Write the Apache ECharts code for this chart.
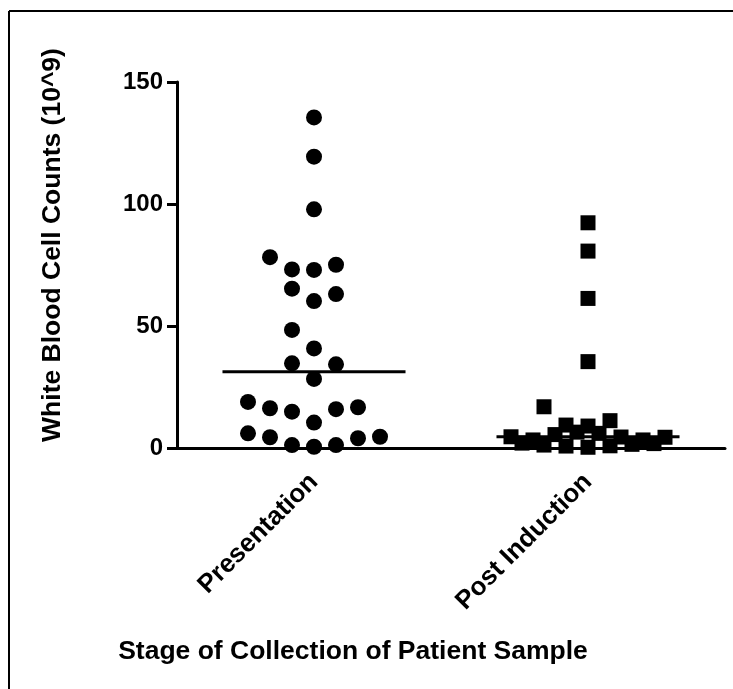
<!DOCTYPE html>
<html>
<head>
<meta charset="utf-8">
<script src="https://cdn.jsdelivr.net/npm/echarts@6/dist/echarts.min.js"></script>
<style>
html,body{margin:0;padding:0;background:#fff;}
#chart{width:733px;height:689px;}
</style>
</head>
<body>
<div id="chart"></div>
<script>
// ---- data ----
var categories = ['Presentation', 'Post Induction'];
var yTicks = [0, 50, 100, 150];

// Presentation (circles): values and beeswarm column index
var presValues  = [135.5, 119.4, 97.8, 78.2, 73.2, 73.0, 75.1, 65.3, 60.2, 63.1, 48.4, 40.8, 34.7, 34.3, 28.3,
                   18.9, 16.3, 14.9, 15.9, 16.7, 10.4, 6.0, 4.4, 1.2, 0.5, 1.2, 4.0, 4.6];
var presColumns = [0, 0, 0, -2, -1, 0, 1, -1, 0, 1, -1, 0, -1, 1, 0,
                   -3, -2, -1, 1, 2, 0, -3, -2, -1, 0, 1, 2, 3];

// Post Induction (squares)
var postValues  = [92.3, 80.7, 61.3, 35.4, 16.9, 9.4, 9.0, 11.2,
                   4.6, 3.3, 5.5, 6.5, 6.0, 4.5, 3.3, 4.4,
                   1.2, 0.8, 0.3, 0.9, 1.5, 1.8, 2.0];
var postColumns = [0, 0, 0, 0, -2, -1, 0, 1,
                   -3.5, -2.5, -1.5, -0.5, 0.5, 1.5, 2.5, 3.5,
                   -2, -1, 0, 1, 2, 3, -3];

// ---- layout constants ----
var COLUMN_STEP = 22 / 274;      // horizontal spacing of swarm columns, in category units
var MEDIAN_HALF = 0.334;         // half width of median bar, in category units
var FONT = 'Liberation Sans, Arial, Helvetica, sans-serif';

function median(arr) {
  var s = arr.slice().sort(function(a, b) { return a - b; });
  var n = s.length;
  return n % 2 ? s[(n - 1) / 2] : (s[n / 2 - 1] + s[n / 2]) / 2;
}
function swarm(catIndex, values, cols) {
  return values.map(function(v, i) { return [catIndex + 1 + cols[i] * COLUMN_STEP, v]; });
}
function medianLine(catIndex, values) {
  var m = median(values);
  return [[catIndex + 1 - MEDIAN_HALF, m], [catIndex + 1 + MEDIAN_HALF, m]];
}

var chart = echarts.init(document.getElementById('chart'), null, {renderer: 'canvas'});
var option = {
  backgroundColor: '#fff',
  animation: false,
  grid: {left: 177, right: 8, top: 82, bottom: 241, containLabel: false},
  xAxis: [{
    type: 'category',
    data: categories,
    boundaryGap: true,
    axisLine: {show: true, lineStyle: {color: '#000', width: 3}},
    axisTick: {show: true, alignWithLabel: true, length: 6, lineStyle: {color: '#000', width: 2}},
    axisLabel: {rotate: 45, margin: 30, color: '#000', fontSize: 26, fontWeight: 'bold', fontFamily: FONT},
    splitLine: {show: false}
  }, {
    type: 'value',
    min: 0.5, max: 2.5,
    show: false,
    splitLine: {show: false}
  }],
  yAxis: {
    type: 'value',
    min: 0, max: 150, interval: 50,
    axisLine: {show: true, lineStyle: {color: '#000', width: 3}},
    axisTick: {show: true, length: 10, lineStyle: {color: '#000', width: 3}},
    axisLabel: {margin: 14, color: '#000', fontSize: 24, fontWeight: 'bold', fontFamily: FONT,
      formatter: function(v) { return yTicks.indexOf(v) >= 0 ? String(v) : ''; }},
    splitLine: {show: false}
  },
  series: [{
    type: 'scatter',
    xAxisIndex: 1,
    symbol: 'circle',
    symbolSize: 16,
    itemStyle: {color: '#000', opacity: 1},
    data: swarm(0, presValues, presColumns),
    z: 2
  }, {
    type: 'scatter',
    xAxisIndex: 1,
    symbol: 'rect',
    symbolSize: 15,
    itemStyle: {color: '#000', opacity: 1},
    data: swarm(1, postValues, postColumns),
    z: 2
  }, {
    type: 'line',
    xAxisIndex: 1,
    symbol: 'none',
    lineStyle: {color: '#000', width: 3},
    data: medianLine(0, presValues),
    z: 3
  }, {
    type: 'line',
    xAxisIndex: 1,
    symbol: 'none',
    lineStyle: {color: '#000', width: 3},
    data: medianLine(1, postValues),
    z: 3
  }],
  graphic: [
    {type: 'line', shape: {x1: 9, y1: 11, x2: 733, y2: 11}, style: {stroke: '#000', lineWidth: 2}},
    {type: 'line', shape: {x1: 9, y1: 11, x2: 9, y2: 689}, style: {stroke: '#000', lineWidth: 2}},
    {type: 'text', x: 53, y: 245, rotation: Math.PI / 2,
      style: {text: 'White Blood Cell Counts (10^9)', fill: '#000', font: 'bold 26.5px ' + FONT,
        textAlign: 'center', textVerticalAlign: 'middle'}},
    {type: 'text', x: 353, y: 652,
      style: {text: 'Stage of Collection of Patient Sample', fill: '#000', font: 'bold 26.5px ' + FONT,
        textAlign: 'center', textVerticalAlign: 'middle'}}
  ]
};
chart.setOption(option);
</script>
</body>
</html>
